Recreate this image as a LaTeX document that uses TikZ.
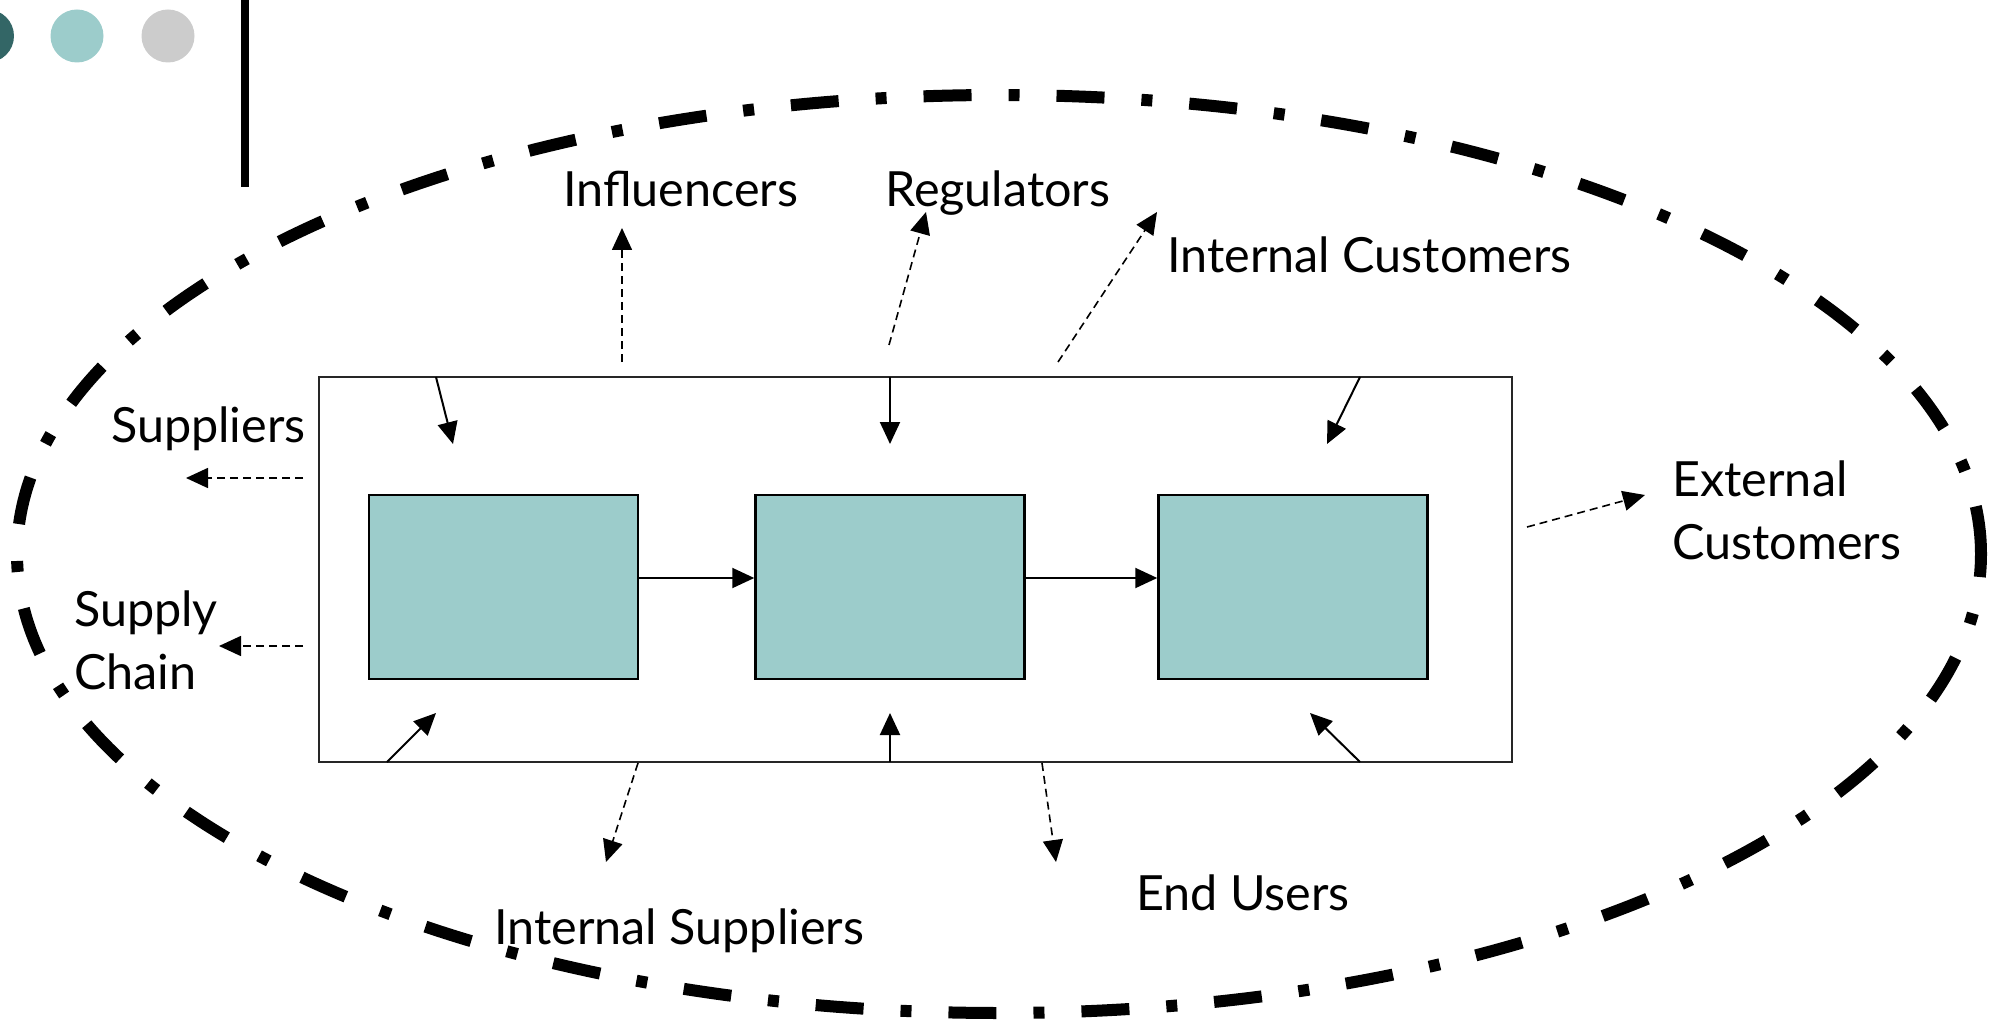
\documentclass[tikz,border=0pt]{standalone}
\usepackage{fontspec}
\setmainfont{Lato}
\usetikzlibrary{arrows.meta}
\definecolor{boxteal}{RGB}{156,204,203}
\definecolor{darkteal}{RGB}{51,102,102}
\definecolor{lightgray2}{RGB}{204,204,204}
\tikzset{
  lbl/.style={inner sep=0pt, anchor=base west, align=left, font=\fontsize{48.5}{63}\selectfont},
  stage/.style={draw=black, line width=2.5pt, fill=boxteal, minimum width=269pt, minimum height=184pt, inner sep=0pt},
  frame/.style={draw=black!85, line width=2.5pt, minimum width=1193pt, minimum height=385pt, inner sep=0pt},
  solidarr/.style={draw=black, line width=2pt, -{Triangle[length=22pt,width=20pt]}},
  dasharr/.style={draw=black, line width=1.6pt, dash pattern=on 8pt off 5pt, -{Triangle[length=22pt,width=20pt]}},
  ring/.style={draw=black, line width=12pt, dash pattern=on 48pt off 37pt on 11pt off 37pt}
}
\begin{document}
\begin{tikzpicture}[x=1pt,y=-1pt]
\useasboundingbox (0,0) rectangle (2000,1024);
% decoration top-left
\fill[darkteal] (-12.5,36) circle[radius=26.5pt];
\fill[boxteal] (77,36) circle[radius=26.5pt];
\fill[lightgray2] (168,36) circle[radius=26.5pt];
\fill[black] (241,0) rectangle (249,187);
% outer dash-dot ellipse
\draw[ring] (999,554) ellipse [x radius=982pt, y radius=459pt];
% frame and stages
\node[frame] (frame) at (915.5,569.5) {};
\node[stage] (b1) at (503.5,587) {};
\node[stage] (b2) at (890,587) {};
\node[stage] (b3) at (1293,587) {};
\draw[solidarr] ([yshift=9pt]b1.east) -- ([yshift=9pt]b2.west);
\draw[solidarr] ([yshift=9pt]b2.east) -- ([yshift=9pt]b3.west);
% inner solid arrows
\coordinate (t1s) at (436,377); \coordinate (t1e) at (453,444);
\coordinate (t2s) at (890,377); \coordinate (t2e) at (890,444);
\coordinate (t3s) at (1360,377); \coordinate (t3e) at (1327,444);
\coordinate (u1s) at (387,762); \coordinate (u1e) at (436,713);
\coordinate (u2s) at (890,762); \coordinate (u2e) at (890,713);
\coordinate (u3s) at (1360,762); \coordinate (u3e) at (1310,713);
\draw[solidarr] (t1s) -- (t1e);
\draw[solidarr] (t2s) -- (t2e);
\draw[solidarr] (t3s) -- (t3e);
\draw[solidarr] (u1s) -- (u1e);
\draw[solidarr] (u2s) -- (u2e);
\draw[solidarr] (u3s) -- (u3e);
% labels
\node[lbl] (infl) at (563,207) {Influencers};
\node[lbl] (regu) at (885,207) {Regulators};
\node[lbl] (intc) at (1167,273) {Internal Customers};
\node[lbl] (supp) at (111,442) {Suppliers};
\node[lbl] (supc) at (74,689) {Supply\\Chain};
\node[lbl] (extc) at (1672,559) {External\\Customers};
\node[lbl] (ints) at (494,944) {Internal Suppliers};
\node[lbl] (endu) at (1136,910) {End Users};
% dashed arrows
\coordinate (d1s) at (622,362); \coordinate (d1e) at (622,228);
\coordinate (d2s) at (889,345); \coordinate (d2e) at (926,212);
\coordinate (d3s) at (1058,362); \coordinate (d3e) at (1157,212);
\coordinate (d4s) at (303,478); \coordinate (d4e) at (186,478);
\coordinate (d5s) at (303,646); \coordinate (d5e) at (219,646);
\coordinate (d6s) at (1527,527); \coordinate (d6e) at (1645,495);
\coordinate (d7s) at (638,763); \coordinate (d7e) at (606,862);
\coordinate (d8s) at (1042,763); \coordinate (d8e) at (1056,862);
\draw[dasharr] (d1s) -- (d1e);
\draw[dasharr] (d2s) -- (d2e);
\draw[dasharr] (d3s) -- (d3e);
\draw[dasharr] (d4s) -- (d4e);
\draw[dasharr] (d5s) -- (d5e);
\draw[dasharr] (d6s) -- (d6e);
\draw[dasharr] (d7s) -- (d7e);
\draw[dasharr] (d8s) -- (d8e);
\end{tikzpicture}
\end{document}
